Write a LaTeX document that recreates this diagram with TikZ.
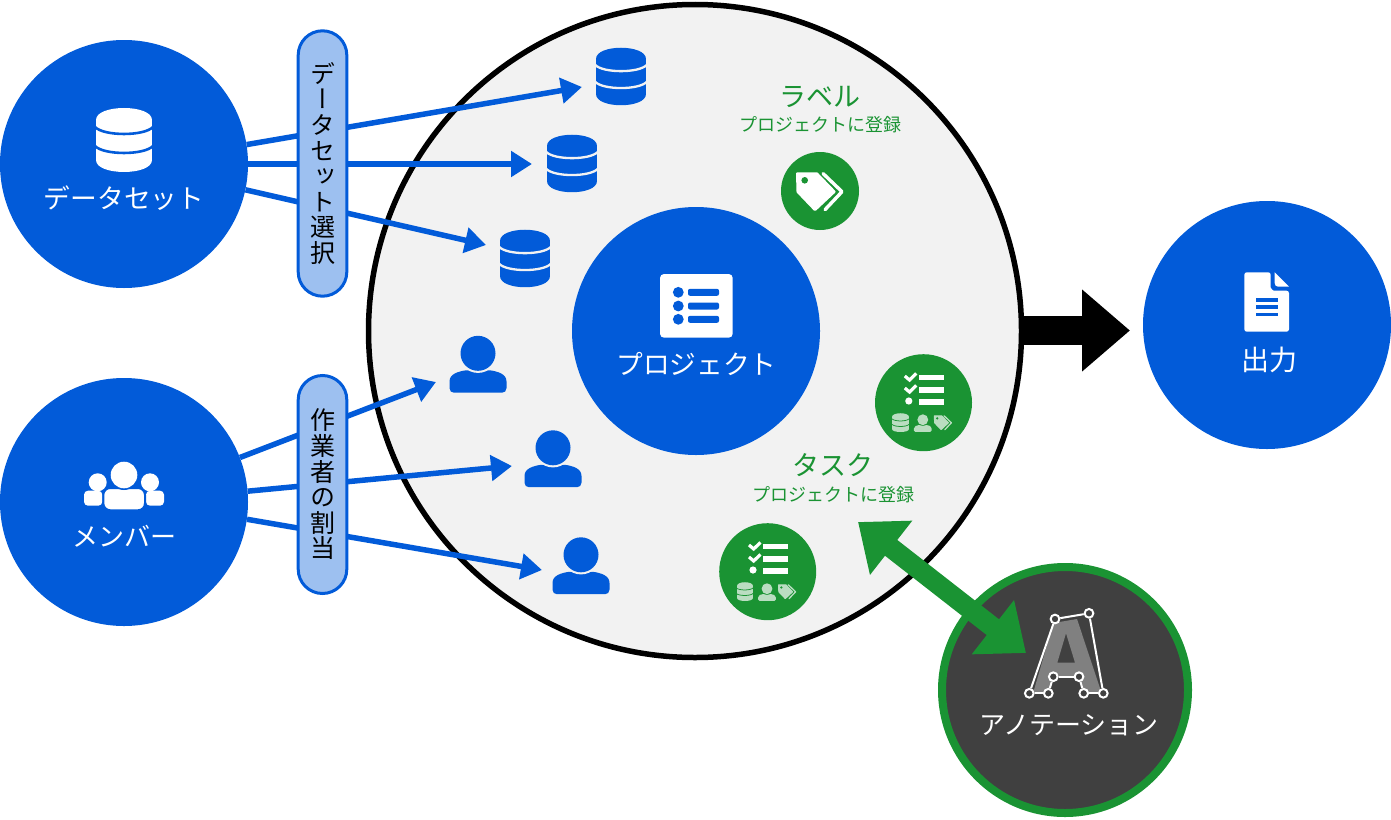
\documentclass[tikz,border=0pt]{standalone}
\usepackage{fontspec}
\setmainfont{Noto Sans CJK JP}
\newfontfamily\vjp[RawFeature=+vert]{Noto Sans CJK JP}
\usetikzlibrary{arrows.meta}
\definecolor{bl}{HTML}{025BD9}
\definecolor{gr}{HTML}{1A9333}
\definecolor{lgr}{HTML}{BADDC1}
\definecolor{dk}{HTML}{404040}
\definecolor{pale}{HTML}{F2F2F2}
\definecolor{pill}{HTML}{9DC0F0}
\newcommand{\mydb}[5]{\begin{scope}[shift={(#1,#2)},scale=#3]
 \fill[#4] (-28,-20) -- (28,-20) -- (28,20) -- (-28,20) -- cycle;
 \fill[#4] (-28,-20) .. controls (-28,-36) and (28,-36) .. (28,-20);
 \fill[#4] (-28,20) .. controls (-28,36) and (28,36) .. (28,20);
 \draw[#5,line width=2.6pt*#3] (-29,-13) .. controls (-20,-3.7) and (20,-3.7) .. (29,-13);
 \draw[#5,line width=2.6pt*#3] (-29,6) .. controls (-20,15.3) and (20,15.3) .. (29,6);
\end{scope}}
\newcommand{\myperson}[5]{\begin{scope}[shift={(#1,#2)},scale=#3]
 \fill[#4] (-28.5,23.7) -- (-28.5,17) .. controls (-28.5,9.5) and (-20,7) .. (-12,5.8) -- (12,5.8) .. controls (20,7) and (28.5,9.5) .. (28.5,17) -- (28.5,23.7) .. controls (28.5,26.5) and (26.5,28.2) .. (24,28.2) -- (-24,28.2) .. controls (-26.5,28.2) and (-28.5,26.5) .. (-28.5,23.7) -- cycle;
 \fill[#5] (0,-11.2) circle[radius=19.6];
 \fill[#4] (0,-11.2) circle[radius=17.5];
\end{scope}}
\newcommand{\mytag}[5]{\begin{scope}[shift={(#1,#2)},scale=#3]
 \draw[#4,line width=3.4pt*#3,line join=round,line cap=round] (3,-17.5) -- (22,0.7) -- (5,18.7);
 \filldraw[#4,line width=3pt*#3,line join=round] (-22.5,-17.2) -- (-3.3,-17.2) -- (14,0.7) -- (-5,18.5) -- (-22,0.7) -- cycle;
 \fill[#5] (-15.3,-10.7) circle[radius=3.3];
\end{scope}}
\newcommand{\mytask}[2]{\begin{scope}[shift={(#1,#2)}]
 \draw[white,line width=3.2pt] (-18.7,-26.7) -- (-14,-22.7) -- (-7.3,-29.3);
 \draw[white,line width=3.2pt] (-18.7,-14.7) -- (-14,-10.7) -- (-7.3,-17.3);
 \fill[white] (-14.7,-1.7) circle[radius=3.6];
 \fill[white] (-4.3,-28.2) rectangle (20,-22.4);
 \fill[white] (-4.3,-16) rectangle (20,-10.2);
 \fill[white] (-4.3,-3.4) rectangle (20,2.4);
 \mydb{-23}{20}{0.29}{lgr}{gr}
 \myperson{-0.7}{20.5}{0.31}{lgr}{gr}
 \mytag{19.5}{19.8}{0.38}{lgr}{gr}
\end{scope}}
\tikzset{
 bigdisc/.style={circle,fill=bl,minimum size=248pt,inner sep=0pt},
 gdisc/.style={circle,fill=gr,inner sep=0pt},
 wlab/.style={text=white,font=\fontsize{26}{30}\selectfont,inner sep=0pt},
 glab/.style={text=gr,font=\fontsize{27}{30}\selectfont,inner sep=0pt},
 gsub/.style={text=gr,font=\fontsize{18}{22}\selectfont,inner sep=0pt},
 pillbox/.style={draw=bl,fill=pill,line width=3pt,minimum width=48.6pt,rounded corners=24.3pt,inner sep=0pt,align=center,text=black,font=\vjp\fontsize{25}{25.6}\selectfont},
 link/.style={draw=bl,line width=5.5pt,-{Triangle[length=21pt,width=25pt]}},
 handle/.style={circle,draw=white,fill=dk,line width=2pt,minimum size=8.7pt,inner sep=0pt},
 hedge/.style={draw=white,line width=2pt},
}
\begin{document}
\begin{tikzpicture}[x=1pt,y=-1pt]
\useasboundingbox (0,0) rectangle (1391,819);
% main discs
\node[circle,draw=black,fill=pale,line width=5.5pt,minimum size=653pt,inner sep=0pt] (big) at (695,331) {};
\node[bigdisc] (proj) at (696,331) {};
\node[bigdisc] (ds) at (124,164) {};
\node[bigdisc] (mem) at (124,502) {};
\node[bigdisc] (out) at (1267,325) {};
\node[circle,draw=gr,fill=dk,line width=8pt,minimum size=246pt,inner sep=0pt] (ann) at (1065,690) {};
% arrow ends
\coordinate (d1) at (582,87);
\coordinate (d2) at (532,164);
\coordinate (d3) at (486,245);
\coordinate (m1) at (436,382);
\coordinate (m2) at (512,466);
\coordinate (m3) at (542,570);
\draw[link] (ds.9) -- (d1);
\draw[link] (ds.0) -- (d2);
\draw[link] (ds.-12) -- (d3);
\draw[link] (mem.21) -- (m1);
\draw[link] (mem.5) -- (m2);
\draw[link] (mem.-8.4) -- (m3);
% pills
\node[pillbox,minimum height=265.4pt] (p1) at (322.5,163.5) {デ\\ー\\タ\\セ\\ッ\\ト\\選\\択};
\node[pillbox,minimum height=218pt] (p2) at (322.5,484.5) {作\\業\\者\\の\\割\\当};
% black arrow
\coordinate (outtip) at (1130,330.5);
\draw[black,line width=29pt,-{Triangle[length=48pt,width=79pt]}] (big.east |- outtip) -- (outtip);
% dataset icons
\mydb{124}{140}{1}{white}{bl}
\mydb{621}{76.5}{0.89}{bl}{pale}
\mydb{572}{163.5}{0.89}{bl}{pale}
\mydb{525}{258.5}{0.89}{bl}{pale}
% persons
\myperson{478}{364.5}{1}{bl}{pale}
\myperson{553}{459}{1}{bl}{pale}
\myperson{581}{566}{1}{bl}{pale}
% group
\fill[white] (97.7,482.3) circle[radius=9];
\fill[white] (150,482.3) circle[radius=9];
\fill[white,rounded corners=4pt] (84,505.7) -- (84,490.7) -- (102.3,490.7) -- (102.3,505.7) -- cycle;
\fill[white,rounded corners=4pt] (146,505.7) -- (146,490.7) -- (164,490.7) -- (164,505.7) -- cycle;
\draw[bl,line width=2pt,fill=white,rounded corners=7pt] (103.3,510.3) -- (103.3,488) -- (145,488) -- (145,510.3) -- cycle;
\fill[bl] (124,475) circle[radius=15];
\fill[white] (124,475) circle[radius=13.3];
% project icon
\fill[white,rounded corners=4pt] (660,274) rectangle (732.7,337.7);
\foreach \yy in {292.3,306,319.3}{
 \fill[bl] (678.3,\yy) circle[radius=5.4];
 \fill[bl,rounded corners=2pt] (688,\yy-3.5) rectangle (719,\yy+3.5);
}
% document icon
\fill[white,rounded corners=2.5pt] (1244.3,272.3) -- (1270.7,272.3) -- (1270.7,285) .. controls (1270.7,288) and (1273,290.7) .. (1276,290.7) -- (1289,290.7) -- (1289,331.7) -- (1244.3,331.7) -- cycle;
\fill[white] (1274.7,272.3) -- (1289,286.7) -- (1278,286.7) .. controls (1276,286.7) and (1274.7,285) .. (1274.7,283) -- cycle;
\foreach \yy in {300,307,314.3}{\fill[bl] (1255.7,\yy-1.7) rectangle (1277.7,\yy+1.7);}
% green discs
\node[gdisc,minimum size=78pt] (lab) at (820,191) {};
\mytag{820}{191}{1}{white}{gr}
\node[gdisc,minimum size=97pt] (t1) at (923.5,402.7) {};
\mytask{923.5}{402.7}
\node[gdisc,minimum size=97pt] (t2) at (767.7,571.7) {};
\mytask{767.7}{571.7}
% annotation icon
\fill[black!50,even odd rule] (1053.5,623) -- (1077,619) -- (1101.7,693.3) -- (1083.7,693.3) -- (1079,676.7) -- (1053.3,676.7) -- (1048.3,693.3) -- (1033,693.3) -- cycle
 (1066,633.3) -- (1075,662.7) -- (1057.3,662.7) -- cycle;
\node[handle] (a1) at (1055,619) {};
\node[handle] (a2) at (1089,613.3) {};
\node[handle] (a3) at (1103.3,693.3) {};
\node[handle] (a4) at (1083.7,693.3) {};
\node[handle] (a5) at (1079,676.7) {};
\node[handle] (a6) at (1053.3,676.7) {};
\node[handle] (a7) at (1048.3,693.3) {};
\node[handle] (a8) at (1029.3,693.3) {};
\draw[hedge] (a1)--(a2);\draw[hedge] (a2)--(a3);\draw[hedge] (a3)--(a4);\draw[hedge] (a4)--(a5);
\draw[hedge] (a5)--(a6);\draw[hedge] (a6)--(a7);\draw[hedge] (a7)--(a8);\draw[hedge] (a8)--(a1);
% green arrow
\coordinate (gA) at (858,522);
\coordinate (gB) at (1026,653);
\draw[gr,line width=20pt,{Triangle[length=42pt,width=66pt]}-{Triangle[length=42pt,width=66pt]}] (gA) -- (gB);
% labels
\node[wlab,font=\fontsize{26.7}{30}\selectfont] (tds) at (124,198) {データセット};
\node[wlab] (tmem) at (124,536) {メンバー};
\node[wlab,font=\fontsize{26.7}{30}\selectfont] (tproj) at (696.5,364) {プロジェクト};
\node[wlab,font=\fontsize{28}{30}\selectfont] (tout) at (1269,360) {出力};
\node[wlab] (tann) at (1069,725) {アノテーション};
\node[glab] (tlab) at (820,97) {ラベル};
\node[gsub] (tlabs) at (820,125) {プロジェクトに登録};
\node[glab] (ttask) at (833,465) {タスク};
\node[gsub] (ttasks) at (833,495) {プロジェクトに登録};
\end{tikzpicture}
\end{document}
